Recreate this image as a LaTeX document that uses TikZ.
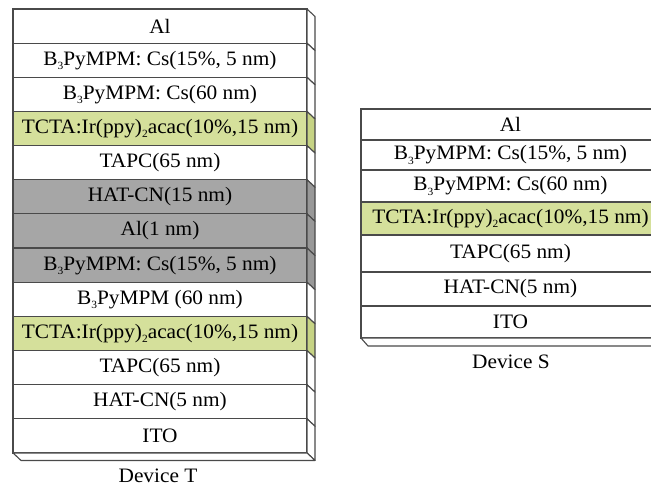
\documentclass[tikz,border=0pt]{standalone}
\usepackage{fontspec}
\setmainfont{Liberation Serif}[FakeStretch=1.04]
\definecolor{layergreen}{HTML}{D5E09B}
\definecolor{layergreenside}{HTML}{C6D384}
\definecolor{layergray}{HTML}{A6A6A6}
\definecolor{layergrayside}{HTML}{989898}
\definecolor{edgecol}{HTML}{4A4A4A}
\tikzset{
  layer/.style={draw=edgecol, line width=1.1pt, rectangle, anchor=north west,
    inner sep=0pt, outer sep=0pt, font=\fontsize{20.5}{24}\selectfont},
  sideface/.style={draw=edgecol, line width=1.1pt, line join=round},
  caption/.style={font=\fontsize{20.5}{24}\selectfont, inner sep=0pt}
}
% small lowered index, as in B_3 and (ppy)_2
\newcommand{\lowidx}[1]{\raisebox{-0.45ex}{\fontsize{11}{12}\selectfont #1}}
\newcommand{\Bsub}{B\lowidx{3}}
\begin{document}
\begin{tikzpicture}[x=1pt, y=-1pt]
\useasboundingbox (0,0) rectangle (651,486);
% ---- Device T: thirteen layers, front face 294 wide, each 34.15 high
\foreach \i/\f/\s/\t in {
  0/white/white/Al,
  1/white/white/{\Bsub PyMPM: Cs(15\%, 5 nm)},
  2/white/white/{\Bsub PyMPM: Cs(60 nm)},
  3/layergreen/layergreenside/{TCTA:Ir(ppy)\lowidx{2}acac(10\%,15 nm)},
  4/white/white/{TAPC(65 nm)},
  5/layergray/layergrayside/{HAT-CN(15 nm)},
  6/layergray/layergrayside/{Al(1 nm)},
  7/layergray/layergrayside/{\Bsub PyMPM: Cs(15\%, 5 nm)},
  8/white/white/{\Bsub PyMPM (60 nm)},
  9/layergreen/layergreenside/{TCTA:Ir(ppy)\lowidx{2}acac(10\%,15 nm)},
  10/white/white/{TAPC(65 nm)},
  11/white/white/{HAT-CN(5 nm)},
  12/white/white/ITO}{
  \node[layer, fill=\f, minimum width=294pt, minimum height=34.15pt]
    (t\i) at (13, {9+34.15*\i}) {\t};
  \filldraw[sideface, fill=\s] (t\i.north east) -- ++(8,7.5) -- ++(0,34.15)
    -- (t\i.south east) -- cycle;
}
% bottom face of Device T
\filldraw[sideface, fill=white] (t12.south west) -- ++(8,7.5) -- ++(294,0)
  -- (t12.south east) -- cycle;
\node[caption] (labT) at (158,476) {Device T};
% ---- Device S: seven layers, running off the right edge
\foreach \i/\a/\b/\f/\t in {
  0/109/140/white/Al,
  1/140/170/white/{\Bsub PyMPM: Cs(15\%, 5 nm)},
  2/170/202/white/{\Bsub PyMPM: Cs(60 nm)},
  3/202/235/layergreen/{TCTA:Ir(ppy)\lowidx{2}acac(10\%,15 nm)},
  4/235/272/white/{TAPC(65 nm)},
  5/272/306/white/{HAT-CN(5 nm)},
  6/306/338/white/ITO}{
  \node[layer, fill=\f, minimum width=299pt, minimum height={(\b-\a)*1pt}]
    (s\i) at (361,\a) {\t};
}
% bottom face of Device S
\filldraw[sideface, fill=white] (s6.south west) -- ++(7,8) -- ++(300,0)
  -- (s6.south east) -- cycle;
\node[caption] (labS) at (511,362) {Device S};
\end{tikzpicture}
\end{document}
